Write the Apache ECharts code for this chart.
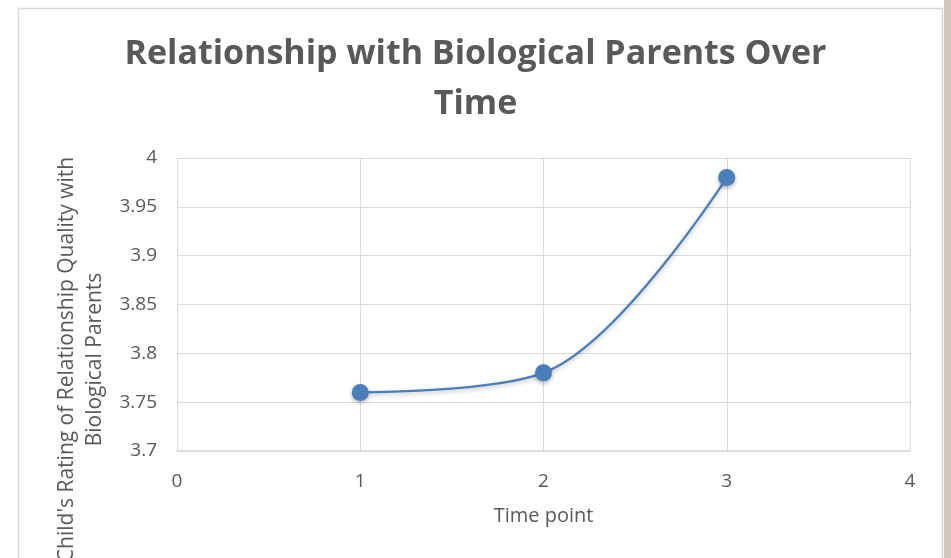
<!DOCTYPE html>
<html>
<head>
<meta charset="utf-8">
<script src="https://cdn.jsdelivr.net/npm/echarts@6/dist/echarts.min.js"></script>
<style>
  html, body { margin: 0; padding: 0; background: #fff; }
  #chart { width: 951px; height: 558px; }
</style>
</head>
<body>
<div id="chart"></div>
<script>
// values
const timePoints = [1, 2, 3]
const ratings = [3.76, 3.78, 3.98]
const titleText = 'Relationship with Biological Parents Over\nTime'
const yName = "Child's Rating of Relationship Quality with\nBiological Parents"
const xName = 'Time point'

const grey = '#595959'
const blue = '#4a7ebb'

var myChart = echarts.init(document.getElementById('chart'))

var option = {
    backgroundColor: '#fff',
    animation: false,
    title: {
        text: titleText,
        left: 'center',
        top: 24,
        padding: [5, 0, 5, 14],
        textStyle: {
            fontFamily: 'Open Sans',
            fontWeight: 'bold',
            fontSize: 34,
            color: grey,
            lineHeight: 50
        }
    },
    graphic: [
        // chart frame
        {
            type: 'rect',
            shape: { x: 18.5, y: 8.5, width: 924, height: 600 },
            style: { fill: 'none', stroke: '#d9d9d9', lineWidth: 1.5 },
            z: -1
        },
        {
            type: 'rect',
            shape: { x: 944, y: 0, width: 7, height: 558 },
            style: { fill: '#cfc8bf' },
            z: -1
        }
    ],
    grid: {
        left: 177,
        right: 41,
        top: 158,
        bottom: 107,
        outerBoundsMode: 'none',
        containLabel: false
    },
    xAxis: {
        type: 'value',
        min: 0,
        max: 4,
        interval: 1,
        name: xName,
        nameLocation: 'middle',
        nameGap: 55,
        nameTextStyle: { fontFamily: 'Open Sans', fontSize: 20, color: grey },
        axisLine: { show: true, lineStyle: { color: '#d9d9d9', width: 1.5 } },
        axisTick: { show: false },
        axisLabel: { margin: 21, fontFamily: 'Open Sans', fontSize: 19, color: grey },
        splitLine: { show: true, lineStyle: { color: '#d9d9d9', width: 1 } }
    },
    yAxis: {
        type: 'value',
        min: 3.7,
        max: 4,
        interval: 0.05,
        name: yName,
        nameLocation: 'middle',
        nameRotate: 90,
        nameGap: 68,
        nameTextStyle: {
            fontFamily: 'Open Sans',
            fontSize: 21,
            color: grey,
            lineHeight: 28,
            padding: [0, 0, 0, -110]
        },
        axisLine: { show: false },
        axisTick: { show: false },
        axisLabel: {
            margin: 20,
            fontFamily: 'Open Sans',
            fontSize: 19,
            color: grey,
            formatter: function (v) { return String(+v.toFixed(2)) }
        },
        splitLine: { show: true, lineStyle: { color: '#d9d9d9', width: 1 } }
    },
    series: [{
        type: 'line',
        data: timePoints.map((t, i) => [t, ratings[i]]),
        smooth: 0.35,
        smoothConstraint: false,
        symbol: 'circle',
        symbolSize: 17,
        lineStyle: {
            color: blue,
            width: 2.25,
            shadowColor: 'rgba(0,0,0,0.25)',
            shadowBlur: 4,
            shadowOffsetY: 2
        },
        itemStyle: {
            color: blue,
            shadowColor: 'rgba(0,0,0,0.3)',
            shadowBlur: 4,
            shadowOffsetY: 2
        }
    }]
}

myChart.setOption(option)
</script>
</body>
</html>
